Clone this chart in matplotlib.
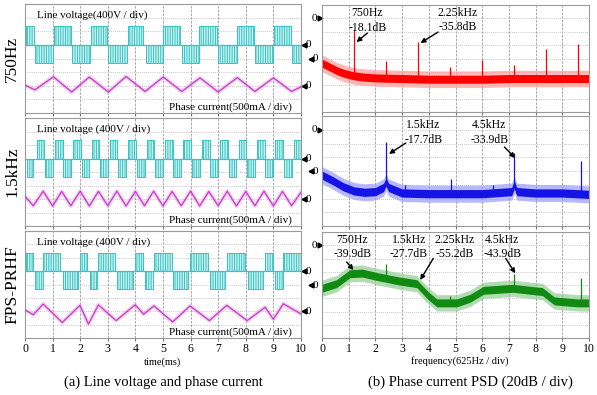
import matplotlib
matplotlib.use('Agg')
import matplotlib.pyplot as plt
import numpy as np

plt.rcParams['font.family'] = ['Liberation Serif', 'DejaVu Serif']
plt.rcParams['hatch.linewidth'] = 0.7

W, H = 597, 395

# ---------------- data ----------------
row_names = ['750Hz', '1.5kHz', 'FPS-PRHF']
v_amp = 540  # V, pulse height of the line voltage

# line voltage pulse groups: (start ms, end ms, sign)
v_blocks_750 = [(0.04, 0.34, 1), (0.36, 1.0, -1), (1.06, 1.65, 1), (1.69, 2.36, -1),
                (2.38, 2.98, 1), (3.02, 3.68, -1), (3.72, 4.29, 1), (4.37, 5.01, -1),
                (5.01, 5.62, 1), (5.68, 6.32, -1), (6.32, 6.95, 1), (7.0, 7.67, -1),
                (7.67, 8.28, 1), (8.33, 9.0, -1), (9.02, 9.63, 1), (9.66, 10.0, -1)]
v_blocks_1k5 = [(0.06, 0.30, -1), (0.42, 0.70, 1), (0.72, 1.0, -1), (1.08, 1.36, 1),
                (1.38, 1.66, -1), (1.74, 2.02, 1), (2.05, 2.33, -1), (2.41, 2.69, 1),
                (2.71, 3.0, -1), (3.07, 3.35, 1), (3.38, 3.66, -1), (3.74, 4.02, 1),
                (4.05, 4.33, -1), (4.41, 4.69, 1), (4.71, 5.0, -1), (5.07, 5.35, 1),
                (5.38, 5.66, -1), (5.74, 6.02, 1), (6.05, 6.33, -1), (6.41, 6.69, 1),
                (6.71, 7.0, -1), (7.07, 7.35, 1), (7.38, 7.66, -1), (7.74, 8.02, 1),
                (8.05, 8.33, -1), (8.41, 8.69, 1), (8.71, 9.0, -1), (9.07, 9.35, 1),
                (9.38, 9.66, -1), (9.74, 10.0, 1)]
v_blocks_fps = [(0.04, 0.30, 1), (0.36, 0.64, -1), (0.66, 1.27, 1), (1.39, 1.93, -1),
                (1.99, 2.26, 1), (2.36, 2.62, -1), (2.66, 3.26, 1), (3.32, 3.93, -1),
                (3.99, 4.26, 1), (4.35, 4.63, -1), (4.67, 5.31, 1), (5.37, 5.92, -1),
                (5.98, 6.64, 1), (6.70, 7.25, -1), (7.31, 7.97, 1), (8.09, 8.63, -1),
                (8.70, 8.97, 1), (9.06, 9.34, -1), (9.36, 10.0, 1)]

# phase current corner points: time (ms), current (mA)
cur_t_750 = [0, 0.36, 1.03, 1.69, 2.33, 3.02, 3.66, 4.35, 5.01, 5.68, 6.34, 7.0, 7.69, 8.33, 9.0, 9.66, 10.0]
cur_i_750 = [20, -150, 330, -230, 320, -230, 340, -210, 320, -210, 290, -230, 300, -210, 290, -210, -40]
cur_t_1k5 = [0, 0.30, 0.66, 1.0, 1.33, 1.66, 2.0, 2.33, 2.66, 3.0, 3.33, 3.66, 4.0, 4.33, 4.66,
             5.0, 5.33, 5.66, 6.0, 6.33, 6.66, 7.0, 7.33, 7.66, 8.0, 8.33, 8.66, 9.0, 9.33, 9.66, 10.0]
cur_i_1k5 = [100, -250, 290, -260, 280, -250, 290, -260, 280, -250, 290, -260, 280, -250, 290,
             -260, 280, -250, 290, -260, 280, -250, 290, -260, 280, -250, 290, -260, 280, -250, 250]
cur_t_fps = [0, 0.3, 0.66, 1.35, 1.99, 2.3, 2.66, 3.3, 3.99, 4.3, 4.67, 5.35, 5.98, 6.68, 7.31, 8.05, 8.7, 9.0, 9.36, 10.0]
cur_i_fps = [50, -130, 270, -420, 220, -480, 240, -350, 240, -110, 200, -400, 200, -350, 220, -350, 150, -300, 280, -100]

# PSD: frequency (Hz), level (dB), 0 dB at the marker
red_f = [0, 190, 375, 560, 750, 1000, 1250, 1875, 2500, 3125, 3750, 4375, 5000, 5625, 6250]
red_db = [-67, -73, -79, -83, -86, -88, -89, -90, -91, -91, -91, -90, -90, -90, -90]
red_pk_f = [750, 1500, 2250, 3000, 3750, 4500, 5250, 6000]
red_pk_db = [-18.1, -64, -35.8, -72, -62, -70, -46, -39]

blue_f = [0, 250, 500, 750, 1000, 1250, 1440, 1500, 1560, 1875, 2500, 3125, 3750, 4440, 4500, 4560, 5000, 5625, 6250]
blue_db = [-66, -74, -83, -89, -91, -90, -84, -76, -84, -92, -93, -93, -93, -90, -80, -90, -92, -92, -94]
blue_pk_f = [1500, 1940, 3030, 4000, 4500, 6060]
blue_pk_db = [-17.7, -80, -72, -80, -33.9, -46]

green_f = [0, 340, 655, 940, 1345, 1810, 2220, 2500, 2690, 3155, 3470, 3780, 4470, 5160, 5440, 5970, 6250]
green_db = [-65, -58, -43, -42, -48, -54, -58, -77, -87, -87, -80, -68, -65, -70, -84, -87, -87]
green_pk_f = [1500, 3000, 4500, 6060]
green_pk_db = [-27.7, -76, -43.9, -50]

# annotations: label, text pos (div), arrow tail, arrow head
notes = [
    [('750Hz\n-18.1dB', (1.7, 6.84), (1.7, 5.9), (1.29, 5.23)),
     ('2.25kHz\n-35.8dB', (5.09, 6.88), (4.35, 5.98), (3.69, 5.16))],
    [('1.5kHz\n-17.7dB', (3.8, 6.8), (3.14, 6.04), (2.51, 5.24)),
     ('4.5kHz\n-33.9dB', (6.27, 6.8), (6.83, 5.75), (7.23, 4.95))],
    [('750Hz\n-39.9dB', (1.14, 6.87), (0.92, 5.74), (1.18, 5.13)),
     ('1.5kHz\n-27.7dB', (3.25, 6.87), None, None),
     ('2.25kHz\n-55.2dB', (4.97, 6.87), (4.17, 6.01), (3.68, 4.38)),
     ('4.5kHz\n-43.9dB', (6.75, 6.87), (6.88, 6.01), (7.24, 4.88))],
]

left_rows = [(4, 113), (118, 226), (231, 338)]
right_rows = [(5, 112), (116, 226), (232, 338)]

cyan = '#38c4c4'
cyan_lt = '#c8f0f0'
mag = '#c23cc2'
psd_cols = [('#ff0000', '#ff9a9a'), ('#1414e6', '#9a9aff'), ('#118a11', '#93cc93')]

fig = plt.figure(figsize=(W / 100, H / 100), dpi=100)


def px_axes(x0, y0, x1, y1):
    return fig.add_axes([x0 / W, 1 - y1 / H, (x1 - x0) / W, (y1 - y0) / H])


def style(ax, bottom):
    ax.set_xlim(0, 10)
    ax.set_ylim(0, 8)
    ax.set_xticks(range(11))
    ax.set_yticks([])
    for x in range(1, 10):
        ax.axvline(x, color='#9a9a9a', lw=0.6, ls=(0, (3, 1.5)), zorder=0)
    for y in range(1, 8):
        ax.axhline(y, color='#b4b4b4', lw=0.6, ls=(0, (1, 1.5)), zorder=0)
    for s in ax.spines.values():
        s.set_color('#9a9a9a')
        s.set_linewidth(0.8)
    ax.tick_params(axis='x', length=2, color='#777777', labelsize=8.5, pad=1.5,
                   labelbottom=bottom)


v_sets = [v_blocks_750, v_blocks_1k5, v_blocks_fps]
c_sets = [(cur_t_750, cur_i_750), (cur_t_1k5, cur_i_1k5), (cur_t_fps, cur_i_fps)]
lv_txt = ['Line voltage(400V / div)', 'Line voltage (400V / div)', 'Line voltage (400V / div)']

for r in range(3):
    y0, y1 = left_rows[r]
    ax = px_axes(25, y0, 301, y1)
    style(ax, r == 2)
    z = 5.0
    ax.axhline(z, color=cyan, lw=0.9, zorder=2)
    for t0, t1, s in v_sets[r]:
        top = z + s * v_amp / 400
        ax.fill_between([t0, t1], [z, z], [top, top], facecolor=cyan_lt,
                        edgecolor=cyan, hatch='|||||||', linewidth=0, zorder=1)
        ax.plot([t0, t0, t1, t1], [z, top, top, z], color=cyan, lw=0.7, zorder=2)
    ct, ci = c_sets[r]
    cy = 2 + np.array(ci) / 500
    ax.plot(ct, cy, color='#e6a0e6', lw=3.0, alpha=0.5, zorder=2)
    ax.plot(ct, cy, color=mag, lw=0.9, zorder=3)
    ax.text(0.43, 7.15, lv_txt[r], fontsize=8, va='center', ha='left')
    ax.text(9.67, 0.43, 'Phase current(500mA / div)', fontsize=8, va='center', ha='right')
    for yy in (5, 2):
        ax.plot(10.1, yy, marker='<', ms=3.5, color='k', clip_on=False)
        ax.text(10.18, yy, '0', fontsize=8, va='center', ha='left')
    fig.text(12 / W, 1 - (y0 + y1) / 2 / H, row_names[r], rotation=90,
             fontsize=12.5, ha='center', va='center')

psd_sets = [(red_f, red_db, red_pk_f, red_pk_db),
            (blue_f, blue_db, blue_pk_f, blue_pk_db),
            (green_f, green_db, green_pk_f, green_pk_db)]

for r in range(3):
    y0, y1 = right_rows[r]
    ax = px_axes(322, y0, 589, y1)
    style(ax, r == 2)
    f, db, pf, pdb = psd_sets[r]
    core, light = psd_cols[r]
    x = np.array(f) / 625
    y = 7 + np.array(db) / 20
    ax.fill_between(x, y - 0.62, y + 0.62, color=light, lw=0, alpha=0.7, zorder=1)
    ax.fill_between(x, y - 0.3, y + 0.3, color=core, lw=0, zorder=2)
    px = np.array(pf) / 625
    ptop = 7 + np.array(pdb) / 20
    ax.vlines(px, np.interp(px, x, y), ptop, color=core, lw=0.9, zorder=3)
    ax.plot(-0.07, 7, marker='>', ms=3.5, color='k', clip_on=False)
    ax.text(-0.17, 7, '0', fontsize=8, va='center', ha='right')
    ax.plot(-0.41, 4, marker='<', ms=3.5, color='k', clip_on=False)
    ax.text(-0.34, 4, '0', fontsize=8, va='center', ha='left')
    for label, tp, tail, head in notes[r]:
        ax.text(tp[0], tp[1], label, fontsize=8.5, ha='center', va='center',
                linespacing=1.25, zorder=5)
        if tail is not None:
            ax.annotate('', xy=head, xytext=tail,
                        arrowprops=dict(arrowstyle='-|>', color='k', lw=1.0,
                                        mutation_scale=7, shrinkA=0, shrinkB=0),
                        zorder=5)

fig.text(163 / W, 1 - 362 / H, 'time(ms)', fontsize=7.5, ha='center', va='center')
fig.text(460 / W, 1 - 361 / H, 'frequency(625Hz / div)', fontsize=7.5, ha='center', va='center')
fig.text(163 / W, 1 - 382 / H, '(a) Line voltage and phase current', fontsize=10.5,
         ha='center', va='center')
fig.text(470 / W, 1 - 382 / H, '(b) Phase current PSD (20dB / div)', fontsize=10.5,
         ha='center', va='center')

fig.savefig('out.png', dpi=100, facecolor='white')
